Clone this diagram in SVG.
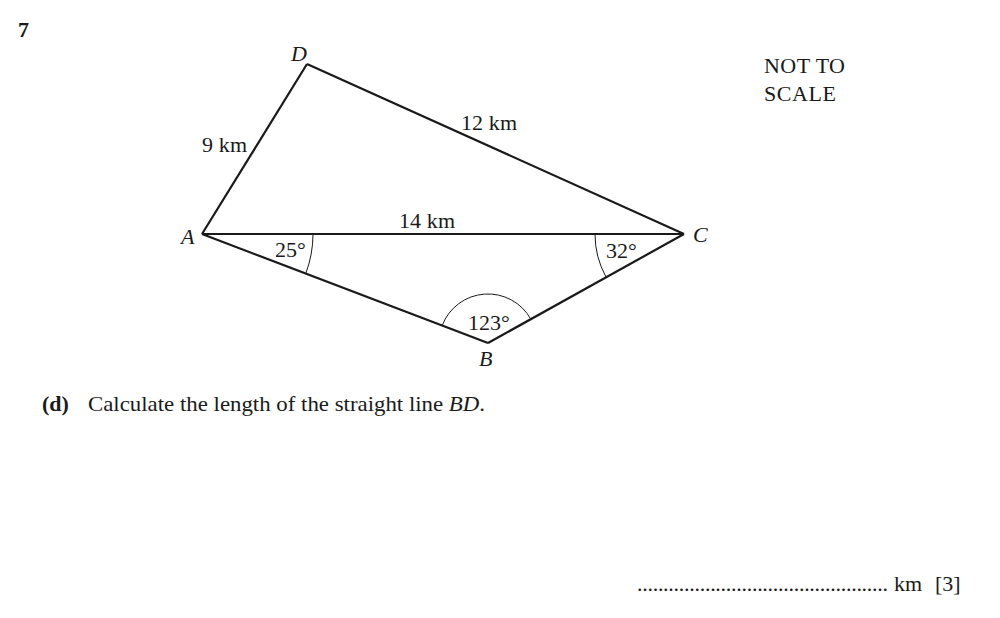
<svg xmlns="http://www.w3.org/2000/svg" width="1000" height="618" viewBox="0 0 1000 618">
<style>
text{font-family:"Liberation Serif","Times New Roman",serif;font-size:22px;fill:#1a1a1a}
.it{font-style:italic}
.b{font-weight:bold}
.edge{stroke:#1a1a1a;stroke-width:2.2;fill:none;stroke-linejoin:miter}
.arc{stroke:#1a1a1a;stroke-width:1;fill:none}
</style>
<rect width="1000" height="618" fill="#fff"/>
<text x="18" y="37" class="b">7</text>
<g id="connectors">
<line class="edge" x1="202" y1="234" x2="307" y2="64"/>
<line class="edge" x1="307" y1="64" x2="684" y2="234"/>
<line class="edge" x1="202" y1="234" x2="684" y2="234" stroke-width="3.2"/>
<line class="edge" x1="202" y1="234" x2="488" y2="343"/>
<line class="edge" x1="488" y1="343" x2="684" y2="234"/>
<path class="arc" d="M313,234 A111,111 0 0 1 305.7,273.6"/>
<path class="arc" d="M595,234 A89,89 0 0 0 606,277"/>
<path class="arc" d="M442.2,325.5 A49,49 0 0 1 530.8,319.2"/>
<text x="202" y="152" textLength="45">9 km</text>
<text x="461" y="130" textLength="56">12 km</text>
<text x="399" y="228" textLength="56">14 km</text>
<text x="275" y="257">25°</text>
<text x="606" y="258">32°</text>
<text x="468" y="330">123°</text>
</g>
<g id="node-A"><text x="181" y="244" class="it">A</text></g>
<g id="node-D"><text x="291" y="61" class="it">D</text></g>
<g id="node-C"><text x="693" y="242" class="it">C</text></g>
<g id="node-B"><text x="479" y="366" class="it">B</text></g>
<text x="764" y="73" textLength="81">NOT TO</text>
<text x="764" y="101" textLength="72">SCALE</text>
<text x="42" y="411" class="b">(d)</text>
<text x="88" y="411" textLength="397" lengthAdjust="spacingAndGlyphs">Calculate the length of the straight line <tspan class="it">BD</tspan>.</text>
<text x="637" y="591" textLength="251" lengthAdjust="spacing">................................................</text>
<text x="894" y="591">km</text>
<text x="935" y="591">[3]</text>
</svg>
